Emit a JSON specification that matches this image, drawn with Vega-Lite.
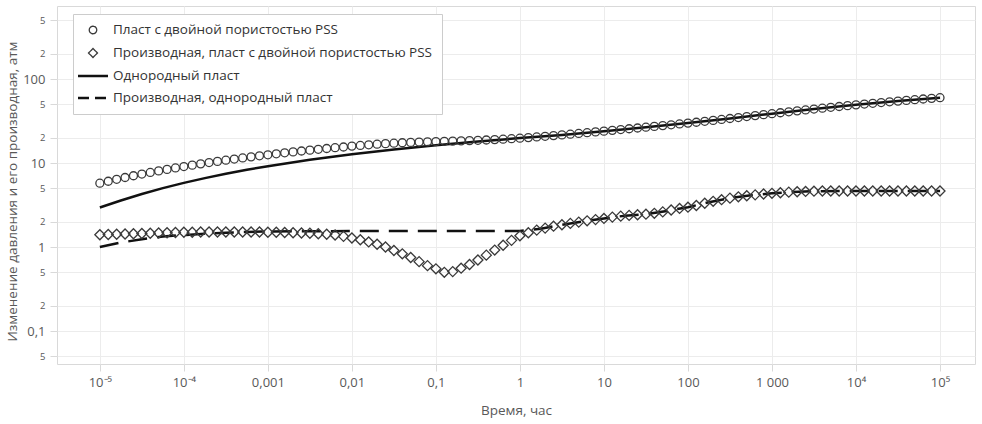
{
  "$schema": "https://vega.github.io/schema/vega-lite/v6.json",
  "width": 918,
  "height": 358,
  "autosize": "none",
  "padding": {"left": 57, "top": 6, "right": 7, "bottom": 60},
  "background": "white",
  "config": {"view": {"stroke": "#d9d9d9"}, "font": "Open Sans"},
  "datasets": {
    "pss": [
      {"t":1e-5,"p":5.75,"d":1.40},{"t":1.2589e-5,"p":6.07,"d":1.41},{"t":1.5849e-5,"p":6.40,"d":1.42},{"t":1.9953e-5,"p":6.72,"d":1.43},{"t":2.5119e-5,"p":7.05,"d":1.44},{"t":3.1623e-5,"p":7.39,"d":1.45},{"t":3.9811e-5,"p":7.72,"d":1.46},{"t":5.0119e-5,"p":8.06,"d":1.47},{"t":6.3096e-5,"p":8.40,"d":1.48},{"t":7.9433e-5,"p":8.74,"d":1.49},
      {"t":1e-4,"p":9.08,"d":1.50},{"t":1.2589e-4,"p":9.43,"d":1.50},{"t":1.5849e-4,"p":9.77,"d":1.51},{"t":1.9953e-4,"p":10.12,"d":1.51},{"t":2.5119e-4,"p":10.46,"d":1.51},{"t":3.1623e-4,"p":10.81,"d":1.51},{"t":3.9811e-4,"p":11.15,"d":1.51},{"t":5.0119e-4,"p":11.5,"d":1.51},{"t":6.3096e-4,"p":11.84,"d":1.51},{"t":7.9433e-4,"p":12.19,"d":1.51},
      {"t":1e-3,"p":12.53,"d":1.50},{"t":1.2589e-3,"p":12.88,"d":1.50},{"t":1.5849e-3,"p":13.22,"d":1.49},{"t":1.9953e-3,"p":13.56,"d":1.48},{"t":2.5119e-3,"p":13.90,"d":1.47},{"t":3.1623e-3,"p":14.23,"d":1.46},{"t":3.9811e-3,"p":14.56,"d":1.44},{"t":5.0119e-3,"p":14.89,"d":1.42},{"t":6.3096e-3,"p":15.21,"d":1.39},{"t":7.9433e-3,"p":15.52,"d":1.34},
      {"t":1e-2,"p":15.9,"d":1.28},{"t":1.2589e-2,"p":16.2,"d":1.22},{"t":1.5849e-2,"p":16.48,"d":1.15},{"t":1.9953e-2,"p":16.75,"d":1.08},{"t":2.5119e-2,"p":17.0,"d":1.00},{"t":3.1623e-2,"p":17.22,"d":0.91},{"t":3.9811e-2,"p":17.42,"d":0.83},{"t":5.0119e-2,"p":17.6,"d":0.75},{"t":6.3096e-2,"p":17.76,"d":0.67},{"t":7.9433e-2,"p":17.9,"d":0.60},
      {"t":0.1,"p":18.02,"d":0.55},{"t":0.12589,"p":18.13,"d":0.50},{"t":0.15849,"p":18.24,"d":0.51},{"t":0.19953,"p":18.36,"d":0.56},{"t":0.25119,"p":18.49,"d":0.62},{"t":0.31623,"p":18.63,"d":0.70},{"t":0.39811,"p":18.8,"d":0.80},{"t":0.50119,"p":19.0,"d":0.92},{"t":0.63096,"p":19.22,"d":1.05},{"t":0.79433,"p":19.47,"d":1.20},
      {"t":1,"p":19.75,"d":1.36},{"t":1.2589,"p":20.07,"d":1.48},{"t":1.5849,"p":20.42,"d":1.59},{"t":1.9953,"p":20.8,"d":1.68},{"t":2.5119,"p":21.2,"d":1.77},{"t":3.1623,"p":21.62,"d":1.84},{"t":3.9811,"p":22.05,"d":1.91},{"t":5.0119,"p":22.5,"d":1.98},{"t":6.3096,"p":22.97,"d":2.05},{"t":7.9433,"p":23.46,"d":2.12},
      {"t":10,"p":23.96,"d":2.19},{"t":12.589,"p":24.48,"d":2.27},{"t":15.849,"p":25.02,"d":2.33},{"t":19.953,"p":25.57,"d":2.38},{"t":25.119,"p":26.13,"d":2.42},{"t":31.623,"p":26.7,"d":2.46},{"t":39.811,"p":27.28,"d":2.52},{"t":50.119,"p":27.88,"d":2.62},{"t":63.096,"p":28.52,"d":2.76},{"t":79.433,"p":29.18,"d":2.88},
      {"t":100,"p":29.87,"d":2.98},{"t":125.89,"p":30.59,"d":3.12},{"t":158.49,"p":31.35,"d":3.32},{"t":199.53,"p":32.16,"d":3.50},{"t":251.19,"p":33.0,"d":3.66},{"t":316.23,"p":33.88,"d":3.82},{"t":398.11,"p":34.79,"d":3.96},{"t":501.19,"p":35.73,"d":4.08},{"t":630.96,"p":36.69,"d":4.18},{"t":794.33,"p":37.67,"d":4.28},
      {"t":1000,"p":38.67,"d":4.36},{"t":1258.9,"p":39.69,"d":4.43},{"t":1584.9,"p":40.73,"d":4.50},{"t":1995.3,"p":41.78,"d":4.55},{"t":2511.9,"p":42.84,"d":4.59},{"t":3162.3,"p":43.9,"d":4.62},{"t":3981.1,"p":44.97,"d":4.64},{"t":5011.9,"p":46.04,"d":4.64},{"t":6309.6,"p":47.11,"d":4.64},{"t":7943.3,"p":48.18,"d":4.64},
      {"t":1e4,"p":49.25,"d":4.64},{"t":12589,"p":50.32,"d":4.64},{"t":15849,"p":51.39,"d":4.64},{"t":19953,"p":52.46,"d":4.64},{"t":25119,"p":53.53,"d":4.64},{"t":31623,"p":54.6,"d":4.64},{"t":39811,"p":55.67,"d":4.64},{"t":50119,"p":56.74,"d":4.64},{"t":63096,"p":57.81,"d":4.64},{"t":79433,"p":58.88,"d":4.64},
      {"t":1e5,"p":59.95,"d":4.64}
    ],
    "hom": [
      {"t":1e-5,"p":2.95},{"t":1.7783e-5,"p":3.58},{"t":3.1623e-5,"p":4.28},{"t":5.6234e-5,"p":5.02},{"t":1e-4,"p":5.8},{"t":1.7783e-4,"p":6.61},{"t":3.1623e-4,"p":7.44},{"t":5.6234e-4,"p":8.3},{"t":1e-3,"p":9.17},{"t":3.1623e-3,"p":10.93},{"t":1e-2,"p":12.71},{"t":3.1623e-2,"p":14.49},{"t":0.1,"p":16.27},{"t":0.31623,"p":18.05},{"t":1,"p":19.8},{"t":3.1623,"p":21.62},{"t":10,"p":23.96},{"t":31.623,"p":26.7},{"t":100,"p":29.87},{"t":316.23,"p":33.88},{"t":1000,"p":38.67},{"t":3162.3,"p":43.9},{"t":1e4,"p":49.25},{"t":31623,"p":54.6},{"t":1e5,"p":59.95}
    ],
    "homd": [
      {"t":1e-5,"d":1.00},{"t":1.7783e-5,"d":1.13},{"t":3.1623e-5,"d":1.24},{"t":5.6234e-5,"d":1.33},{"t":1e-4,"d":1.39},{"t":1.7783e-4,"d":1.44},{"t":3.1623e-4,"d":1.48},{"t":5.6234e-4,"d":1.51},{"t":1e-3,"d":1.53},{"t":3.1623e-3,"d":1.54},{"t":1e-2,"d":1.55},{"t":0.1,"d":1.55},{"t":1,"d":1.55},{"t":1.7783,"d":1.65},{"t":3.1623,"d":1.84},{"t":5.6234,"d":2.02},{"t":10,"d":2.19},{"t":17.783,"d":2.36},{"t":31.623,"d":2.46},{"t":56.234,"d":2.69},{"t":100,"d":2.98},{"t":177.83,"d":3.41},{"t":316.23,"d":3.82},{"t":562.34,"d":4.13},{"t":1000,"d":4.36},{"t":1778.3,"d":4.53},{"t":3162.3,"d":4.62},{"t":1e4,"d":4.64},{"t":1e5,"d":4.64}
    ]
  },
  "encoding": {
    "x": {
      "field": "t", "type": "quantitative",
      "scale": {"type": "log", "domain": [3.09e-6, 2.61e5], "nice": false},
      "axis": {
        "values": [1e-5, 1e-4, 0.001, 0.01, 0.1, 1, 10, 100, 1000, 10000, 100000],
        "labelExpr": "['10⁻⁵','10⁻⁴','0,001','0,01','0,1','1','10','100','1 000','10⁴','10⁵'][round(log(datum.value)/LN10)+5]",
        "grid": true, "gridColor": "#ececec", "domain": false,
        "tickColor": "#d9d9d9", "tickSize": 7, "labelPadding": 5,
        "labelFontSize": 13, "labelColor": "#595959", "labelFlush": false,
        "title": "Время, час", "titleFontSize": 13.5, "titleFontWeight": "normal", "titleColor": "#595959",
        "titleY": 46, "titleBaseline": "middle"
      }
    },
    "y": {
      "field": "v", "type": "quantitative",
      "scale": {"type": "log", "domain": [0.0405, 740], "nice": false},
      "axis": {
        "values": [0.05, 0.1, 0.2, 0.5, 1, 2, 5, 10, 20, 50, 100, 200, 500],
        "labelExpr": "datum.value==0.1?'0,1':(datum.value==0.05||datum.value==0.5||datum.value==5||datum.value==50||datum.value==500)?'5':(datum.value==0.2||datum.value==2||datum.value==20||datum.value==200)?'2':datum.value==1?'1':datum.value==10?'10':'100'",
        "labelFontSize": {"condition": {"test": "datum.value==0.1||datum.value==1||datum.value==10||datum.value==100", "value": 13}, "value": 9.5},
        "grid": true, "gridColor": "#ececec", "domain": false,
        "tickColor": "#d9d9d9", "tickSize": 7, "labelPadding": 5,
        "labelColor": "#595959",
        "title": "Изменение давления и его производная, атм", "titleFontSize": 13.5, "titleFontWeight": "normal", "titleColor": "#595959",
        "titleX": -45, "titleY": 185, "titleBaseline": "middle", "titleAlign": "center", "titleAngle": -90
      }
    },
    "color": {
      "field": "s", "type": "nominal",
      "scale": {"domain": ["A", "B", "C", "D"], "range": ["#3a3a3a", "#3a3a3a", "#111111", "#111111"]},
      "legend": {
        "orient": "none", "legendX": 16, "legendY": 8, "title": null,
        "fillColor": "white", "strokeColor": "#cccccc", "padding": 9,
        "labelFontSize": 13.5, "labelColor": "#333333", "labelLimit": 500, "labelOffset": 5,
        "symbolSize": 900, "rowPadding": 8,
        "labelExpr": "datum.value=='A'?'Пласт с двойной пористостью PSS':datum.value=='B'?'Производная, пласт с двойной пористостью PSS':datum.value=='C'?'Однородный пласт':'Производная, однородный пласт'",
        "encode": {
          "symbols": {
            "update": {
              "x": {"value": 11},
              "y": {"value": 7},
              "shape": {"signal": "datum.value=='A'?'circle':datum.value=='B'?'diamond':'stroke'"},
              "size": {"signal": "datum.value=='A'?56:datum.value=='B'?80:900"},
              "strokeWidth": {"signal": "datum.value=='A'||datum.value=='B'?1.3:2.5"},
              "strokeDash": {"signal": "datum.value=='D'?[11,6]:[1,0]"},
              "stroke": {"value": "#222222"},
              "fill": {"value": "transparent"},
              "opacity": {"value": 1}
            }
          },
          "labels": {
            "update": {
              "x": {"value": 31},
              "y": {"value": 7},
              "baseline": {"value": "middle"}
            }
          }
        }
      }
    }
  },
  "layer": [
    {"data": {"name": "hom"}, "transform": [{"fold": ["p"], "as": ["s0", "v"]}], "mark": {"type": "line", "strokeWidth": 2.5}, "encoding": {"color": {"datum": "C"}}},
    {"data": {"name": "homd"}, "transform": [{"fold": ["d"], "as": ["s0", "v"]}], "mark": {"type": "line", "strokeWidth": 2.5, "strokeDash": [19, 10]}, "encoding": {"color": {"datum": "D"}}},
    {"data": {"name": "pss"}, "transform": [{"fold": ["p"], "as": ["s0", "v"]}], "mark": {"type": "point", "shape": "circle", "size": 64, "strokeWidth": 1.3, "filled": false, "opacity": 1}, "encoding": {"color": {"datum": "A"}}},
    {"data": {"name": "pss"}, "transform": [{"fold": ["d"], "as": ["s0", "v"]}], "mark": {"type": "point", "shape": "diamond", "size": 100, "strokeWidth": 1.3, "filled": false, "opacity": 1}, "encoding": {"color": {"datum": "B"}}}
  ]
}
